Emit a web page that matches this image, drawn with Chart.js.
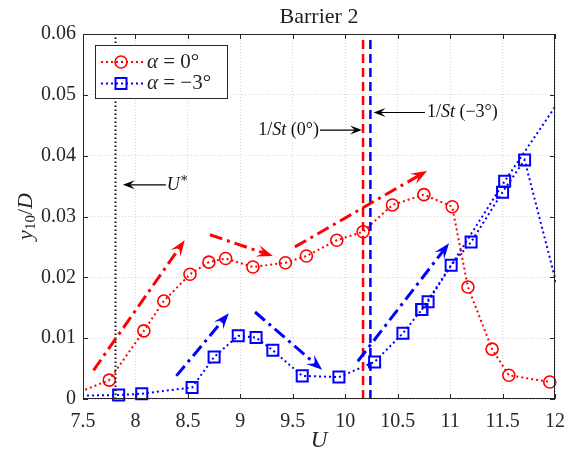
<!DOCTYPE html>
<html>
<head>
<meta charset="utf-8">
<script src="https://cdn.jsdelivr.net/npm/chart.js@4/dist/chart.umd.min.js"></script>
<style>
  html, body { margin: 0; padding: 0; background: #fff; }
</style>
</head>
<body>
<canvas id="myChart" width="568" height="452"></canvas>
<script>
var xTicks = [7.5, 8, 8.5, 9, 9.5, 10, 10.5, 11, 11.5, 12];
var yTicks = [0, 0.01, 0.02, 0.03, 0.04, 0.05, 0.06];

// alpha = 0 deg (first point lies left of the axis, only its line shows)
var uRed = [7.3, 7.75, 8.08, 8.27, 8.52, 8.70, 8.86, 9.12, 9.43, 9.63, 9.92, 10.17, 10.45, 10.75, 11.02, 11.17, 11.40, 11.56, 11.95];
var yRed = [0.0000, 0.0031, 0.0112, 0.0161, 0.0205, 0.0225, 0.0231, 0.0217, 0.0224, 0.0235, 0.0261, 0.0275, 0.0319, 0.0336, 0.0316, 0.0184, 0.0082, 0.0039, 0.0028];

// alpha = -3 deg, two sweeps (null breaks the line)
var uBlue = [7.3, 7.84, 8.06, 8.54, 8.75, 8.98, 9.15, 9.31, 9.59, 9.94, 10.28, 10.55, 10.73, 11.01, 11.20, 11.50, 11.71, 12.2, null, 10.73, 10.79, 11.52, 12.2];
var yBlue = [0.0005, 0.00066, 0.00087, 0.0019, 0.0069, 0.0104, 0.0101, 0.0080, 0.0038, 0.0036, 0.0061, 0.0108, 0.0147, 0.0220, 0.0258, 0.0340, 0.0393, 0.0065, null, 0.0147, 0.0160, 0.0358, 0.0531];

// vertical markers
var uStar = 7.81;
var uSt0 = 10.17;
var uSt3 = 10.24;

// sweep arrows [u0, y0, u1, y1]
var redArrows = [[7.60, 0.0047, 8.47, 0.0261], [8.71, 0.0270, 9.31, 0.0235], [9.52, 0.0250, 10.78, 0.0375]];
var blueArrows = [[8.39, 0.0038, 8.89, 0.0141], [9.14, 0.0143, 9.78, 0.0048], [10.12, 0.0062, 10.99, 0.0256]];

// label arrows [u0, y0, u1, y1]
var uStarArrow = [8.29, 0.0352, 7.88, 0.0352];
var st0Arrow = [9.76, 0.0442, 10.16, 0.0442];
var st3Arrow = [10.76, 0.0471, 10.27, 0.0471];

var RED = '#ff0000', BLUE = '#0000ff', INK = '#262626';
var SERIF = '"Liberation Serif", "DejaVu Serif", serif';

function pts(us, ys) {
    return us.map(function (u, i) { return { x: u, y: ys[i] }; });
}

function onPlot(c) {
    var x = c.raw && c.raw.x;
    return x !== null && x >= 7.5 && x <= 12;
}

function vline(u, color, dash, width) {
    return {
        data: [{ x: u, y: 0 }, { x: u, y: 0.06 }],
        showLine: true, borderColor: color, borderWidth: width, borderDash: dash,
        pointRadius: 0, clip: 0
    };
}

function runs(ctx, parts, x, y, align) {
    var w = 0;
    parts.forEach(function (p) {
        ctx.font = (p[1] ? 'italic ' : '') + p[2] + 'px ' + SERIF;
        p.w = ctx.measureText(p[0]).width;
        w += p.w;
    });
    var cx = align === 'right' ? x - w : (align === 'center' ? x - w / 2 : x);
    ctx.textAlign = 'left';
    ctx.textBaseline = 'middle';
    parts.forEach(function (p) {
        ctx.font = (p[1] ? 'italic ' : '') + p[2] + 'px ' + SERIF;
        ctx.fillText(p[0], cx, y + (p[3] || 0));
        cx += p.w;
    });
}

function head(ctx, x0, y0, x1, y1, len, half, color) {
    var a = Math.atan2(y1 - y0, x1 - x0), c = Math.cos(a), s = Math.sin(a);
    ctx.save();
    ctx.setLineDash([]);
    ctx.fillStyle = color;
    ctx.beginPath();
    ctx.moveTo(x1, y1);
    ctx.lineTo(x1 - len * c - half * s, y1 - len * s + half * c);
    ctx.lineTo(x1 - 0.6 * len * c, y1 - 0.6 * len * s);
    ctx.lineTo(x1 - len * c + half * s, y1 - len * s - half * c);
    ctx.closePath();
    ctx.fill();
    ctx.restore();
}

function arrow(chart, a, color, width, dash, len, half) {
    var ctx = chart.ctx, sx = chart.scales.x, sy = chart.scales.y;
    var x0 = sx.getPixelForValue(a[0]), y0 = sy.getPixelForValue(a[1]);
    var x1 = sx.getPixelForValue(a[2]), y1 = sy.getPixelForValue(a[3]);
    var ang = Math.atan2(y1 - y0, x1 - x0);
    ctx.save();
    ctx.strokeStyle = color;
    ctx.lineWidth = width;
    ctx.setLineDash(dash);
    ctx.beginPath();
    ctx.moveTo(x0, y0);
    ctx.lineTo(x1 - 0.6 * len * Math.cos(ang), y1 - 0.6 * len * Math.sin(ang));
    ctx.stroke();
    ctx.restore();
    head(ctx, x0, y0, x1, y1, len, half, color);
}

var extras = {
    id: 'extras',
    afterDatasetsDraw: function (chart) {
        redArrows.forEach(function (a) { arrow(chart, a, RED, 3, [13, 5, 3, 5], 16, 6); });
        blueArrows.forEach(function (a) { arrow(chart, a, BLUE, 3, [13, 5, 3, 5], 16, 6); });
        [uStarArrow, st0Arrow, st3Arrow].forEach(function (a) { arrow(chart, a, '#000', 1.2, [], 12, 4.5); });
    },
    afterDraw: function (chart) {
        var ctx = chart.ctx, area = chart.chartArea, sx = chart.scales.x, sy = chart.scales.y;
        ctx.save();
        // axes box with inward ticks
        ctx.strokeStyle = INK;
        ctx.lineWidth = 1;
        ctx.setLineDash([]);
        ctx.strokeRect(area.left + 0.5, area.top + 0.5, area.right - area.left - 1, area.bottom - area.top - 1);
        ctx.beginPath();
        xTicks.forEach(function (u) {
            var x = Math.round(sx.getPixelForValue(u)) + 0.5;
            ctx.moveTo(x, area.bottom); ctx.lineTo(x, area.bottom - 5);
            ctx.moveTo(x, area.top); ctx.lineTo(x, area.top + 5);
        });
        yTicks.forEach(function (v) {
            var y = Math.round(sy.getPixelForValue(v)) + 0.5;
            ctx.moveTo(area.left, y); ctx.lineTo(area.left + 5, y);
            ctx.moveTo(area.right, y); ctx.lineTo(area.right - 5, y);
        });
        ctx.stroke();

        // text labels
        ctx.fillStyle = '#111';
        runs(ctx, [['U', true, 18], ['\u2217', false, 13, -6]], sx.getPixelForValue(uStarArrow[0]) + 1, sy.getPixelForValue(uStarArrow[1]), 'left');
        runs(ctx, [['1/', false, 18], ['St', true, 18], [' (0\u00b0)', false, 18]], sx.getPixelForValue(st0Arrow[0]) - 1, sy.getPixelForValue(st0Arrow[1]), 'right');
        runs(ctx, [['1/', false, 18], ['St', true, 18], [' (\u22123\u00b0)', false, 18]], sx.getPixelForValue(st3Arrow[0]) + 2, sy.getPixelForValue(st3Arrow[1]), 'left');

        // axis titles
        ctx.fillStyle = INK;
        runs(ctx, [['U', true, 23]], (area.left + area.right) / 2, 441, 'center');
        ctx.save();
        ctx.translate(26, (area.top + area.bottom) / 2);
        ctx.rotate(-Math.PI / 2);
        runs(ctx, [['y', true, 22], ['10', false, 15, 5], ['/', false, 22], ['D', true, 22]], 0, 0, 'center');
        ctx.restore();

        // legend
        var lx = area.left + 12, ly = area.top + 11, lw = 132, lh = 53;
        ctx.fillStyle = '#fff';
        ctx.fillRect(lx, ly, lw, lh);
        ctx.strokeStyle = INK;
        ctx.lineWidth = 1;
        ctx.strokeRect(lx + 0.5, ly + 0.5, lw, lh);
        var rows = [[RED, 'circle', '0\u00b0'], [BLUE, 'rect', '\u22123\u00b0']];
        rows.forEach(function (r, i) {
            var y = ly + 17 + i * 21.5;
            ctx.strokeStyle = r[0];
            ctx.lineWidth = 2;
            ctx.setLineDash([2, 3]);
            ctx.beginPath();
            ctx.moveTo(lx + 6, y); ctx.lineTo(lx + 49, y);
            ctx.stroke();
            ctx.setLineDash([]);
            ctx.beginPath();
            if (r[1] === 'circle') {
                ctx.lineWidth = 1.6;
                ctx.arc(lx + 26, y, 6, 0, Math.PI * 2);
            } else {
                ctx.lineWidth = 2;
                ctx.rect(lx + 26 - 5.5, y - 5.5, 11, 11);
            }
            ctx.stroke();
            ctx.fillStyle = INK;
            runs(ctx, [['\u03b1', true, 21], [' = ' + r[2], false, 21]], lx + 52, y, 'left');
        });
        ctx.restore();
    }
};

var ctx = document.getElementById('myChart').getContext('2d');

var chart = new Chart(ctx, {
    type: 'scatter',
    data: {
        datasets: [
            vline(uStar, '#111', [1.5, 2.5], 2),
            vline(uSt0, RED, [9, 5], 2.5),
            vline(uSt3, BLUE, [9, 5], 2.5),
            {
                label: '\u03b1 = 0\u00b0',
                data: pts(uRed, yRed),
                showLine: true,
                borderColor: RED, borderWidth: 2, borderDash: [2, 3],
                pointStyle: 'circle',
                pointRadius: function (c) { return onPlot(c) ? 6 : 0; },
                pointBorderWidth: 1.6,
                pointBorderColor: RED,
                pointBackgroundColor: 'rgba(0,0,0,0)',
                clip: { left: 0, top: 0, right: 2, bottom: 8 }
            },
            {
                label: '\u03b1 = \u22123\u00b0',
                data: pts(uBlue, yBlue),
                showLine: true,
                borderColor: BLUE, borderWidth: 2, borderDash: [2, 3],
                pointStyle: 'rect',
                pointRadius: function (c) { return onPlot(c) ? 7.8 : 0; },
                pointBorderWidth: 2,
                pointBorderColor: BLUE,
                pointBackgroundColor: 'rgba(0,0,0,0)',
                clip: { left: 0, top: 0, right: 1, bottom: 8 }
            }
        ]
    },
    options: {
        responsive: false,
        animation: false,
        layout: { padding: { left: 0, right: 13, top: 0, bottom: 0 } },
        plugins: {
            legend: { display: false },
            tooltip: { enabled: false },
            title: {
                display: true,
                text: 'Barrier 2',
                fullSize: false,
                color: '#222',
                font: { family: SERIF, size: 22, weight: 'normal', lineHeight: 1.2 },
                padding: { top: 4, bottom: 3.6 }
            }
        },
        scales: {
            x: {
                type: 'linear', min: 7.5, max: 12,
                afterBuildTicks: function (s) { s.ticks = xTicks.map(function (v) { return { value: v }; }); },
                afterFit: function (s) { s.height = 53; s.paddingLeft = 0; s.paddingRight = 0; },
                ticks: {
                    color: INK, padding: 11, maxRotation: 0, autoSkip: false,
                    font: { family: SERIF, size: 20 },
                    callback: function (v) { return String(v); }
                },
                grid: { color: 'rgba(0,0,0,0.16)', drawTicks: false },
                border: { display: false, dash: [1, 2] }
            },
            y: {
                type: 'linear', min: 0, max: 0.06,
                afterBuildTicks: function (s) { s.ticks = yTicks.map(function (v) { return { value: v }; }); },
                afterFit: function (s) { s.width = 83; s.paddingTop = 0; s.paddingBottom = 0; },
                ticks: {
                    color: INK, padding: 7, autoSkip: false,
                    font: { family: SERIF, size: 20 },
                    callback: function (v) { return v === 0 ? '0' : v.toFixed(2); }
                },
                grid: { color: 'rgba(0,0,0,0.16)', drawTicks: false },
                border: { display: false, dash: [1, 2] }
            }
        }
    },
    plugins: [extras]
});
</script>
</body>
</html>
